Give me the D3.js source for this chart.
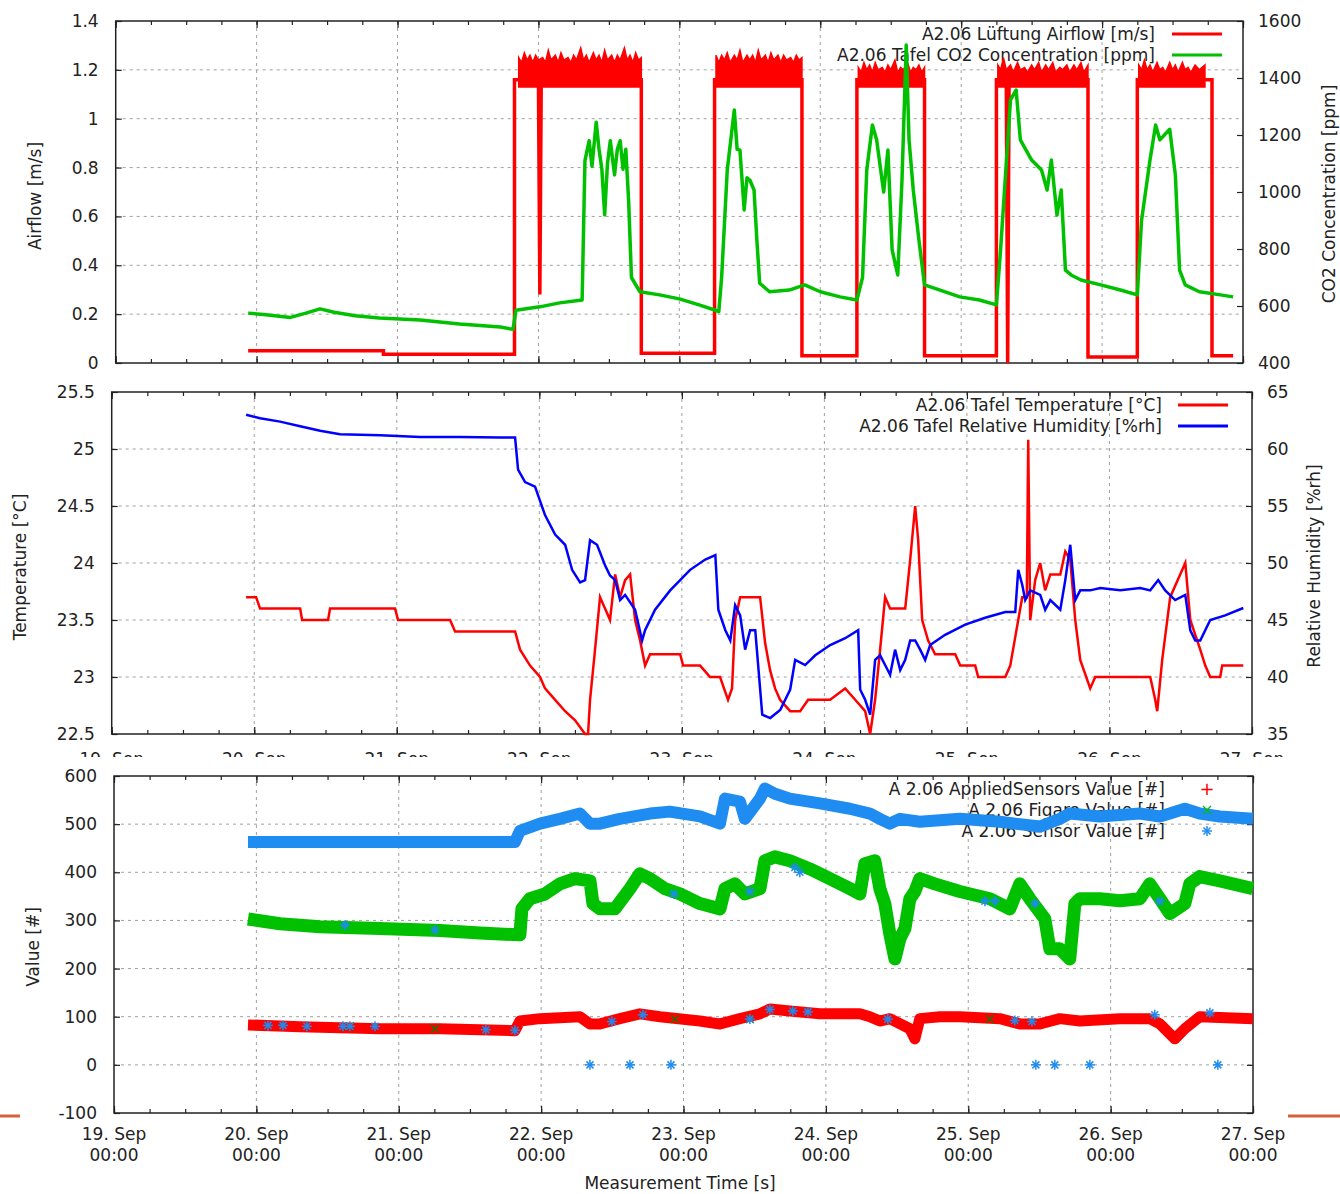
<!DOCTYPE html>
<html><head><meta charset="utf-8">
<script src="https://cdn.jsdelivr.net/npm/d3@7"></script>
<style>
body{margin:0;background:#fff}
svg{display:block}
text{font-family:"DejaVu Sans",sans-serif;fill:#222}
</style>
</head><body>
<svg id="c" width="1340" height="1194"></svg>
<script>
// ---------- DATA (time = days after 19 Sep 00:00) ----------
const xTickDays = [0,1,2,3,4,5,6,7,8];
const airflowTicks = [0,0.2,0.4,0.6,0.8,1,1.2,1.4];
const co2Ticks = [400,600,800,1000,1200,1400,1600];
const tempTicks = [22.5,23,23.5,24,24.5,25,25.5];
const humTicks = [35,40,45,50,55,60,65];
const valueTicks = [-100,0,100,200,300,400,500,600];

// Airflow step line (off periods + transitions)
const airflow = [[0.94,0.05],[1.90,0.05],[1.90,0.036],[2.83,0.036],[2.83,1.16],[3.00,1.16],[3.01,0.28],[3.02,1.16],[3.73,1.16],[3.73,0.04],
 [4.25,0.04],[4.25,1.16],[4.87,1.16],[4.87,0.03],[5.26,0.03],[5.26,1.16],[5.74,1.16],[5.74,0.03],[6.25,0.03],[6.25,1.16],[6.32,1.16],[6.33,0.0],[6.34,1.16],
 [6.90,1.16],[6.90,0.025],[7.25,0.025],[7.25,1.16],[7.73,1.16],[7.78,1.16],[7.78,0.03],[7.93,0.03]];
// Airflow "on" noise bands: [t, upper value]; lower edge airflowBandLow
const airflowBandLow = 1.13;
const airflowBand1 = [[2.86,1.25],[2.88,1.23],[2.90,1.27],[2.92,1.24],[2.94,1.26],[2.96,1.23],[2.98,1.26],[3.00,1.24],[3.03,1.25],[3.05,1.23],[3.07,1.28],[3.09,1.24],[3.12,1.26],[3.14,1.23],[3.16,1.27],[3.18,1.24],[3.21,1.25],[3.23,1.23],[3.25,1.26],[3.27,1.24],[3.30,1.29],[3.32,1.24],[3.34,1.26],[3.36,1.23],[3.39,1.27],[3.41,1.24],[3.43,1.26],[3.45,1.23],[3.47,1.28],[3.49,1.24],[3.52,1.26],[3.54,1.23],[3.56,1.26],[3.58,1.24],[3.61,1.29],[3.63,1.24],[3.65,1.26],[3.67,1.23],[3.69,1.27],[3.71,1.24],[3.73,1.25]];
const airflowBand2 = [[4.26,1.26],[4.28,1.23],[4.30,1.26],[4.32,1.24],[4.34,1.27],[4.36,1.23],[4.39,1.26],[4.41,1.24],[4.43,1.28],[4.45,1.23],[4.48,1.26],[4.50,1.24],[4.52,1.26],[4.54,1.23],[4.56,1.28],[4.58,1.24],[4.61,1.26],[4.63,1.23],[4.65,1.27],[4.67,1.24],[4.70,1.26],[4.72,1.23],[4.74,1.26],[4.76,1.24],[4.79,1.25],[4.81,1.23],[4.83,1.26],[4.85,1.24],[4.87,1.25]];
const airflowBand3 = [[5.27,1.21],[5.29,1.19],[5.31,1.23],[5.33,1.20],[5.35,1.22],[5.37,1.19],[5.39,1.23],[5.41,1.20],[5.44,1.21],[5.46,1.19],[5.48,1.22],[5.50,1.20],[5.53,1.24],[5.55,1.19],[5.57,1.21],[5.59,1.20],[5.62,1.23],[5.64,1.19],[5.66,1.21],[5.68,1.20],[5.70,1.22],[5.72,1.19],[5.74,1.21]];
const airflowBand4 = [[6.26,1.22],[6.28,1.20],[6.30,1.25],[6.32,1.20],[6.35,1.22],[6.37,1.19],[6.40,1.23],[6.42,1.20],[6.45,1.21],[6.47,1.19],[6.50,1.22],[6.52,1.20],[6.55,1.23],[6.57,1.19],[6.60,1.22],[6.62,1.20],[6.65,1.23],[6.67,1.19],[6.70,1.21],[6.72,1.20],[6.75,1.22],[6.77,1.19],[6.80,1.22],[6.82,1.20],[6.85,1.23],[6.87,1.19],[6.90,1.22]];
const airflowBand5 = [[7.26,1.22],[7.28,1.20],[7.30,1.24],[7.32,1.20],[7.34,1.22],[7.36,1.19],[7.39,1.23],[7.41,1.20],[7.43,1.21],[7.45,1.19],[7.48,1.23],[7.50,1.20],[7.52,1.22],[7.54,1.19],[7.57,1.23],[7.59,1.20],[7.61,1.21],[7.63,1.19],[7.66,1.22],[7.69,1.20],[7.73,1.22]];

const co2 = [[0.94,575],[1.05,570],[1.24,560],[1.35,575],[1.45,590],[1.55,578],[1.70,566],[1.87,558],[2.16,551],[2.44,537],[2.73,526],[2.82,518],[2.84,585],[3.01,597],[3.15,611],[3.31,621],
 [3.33,1110],[3.36,1180],[3.38,1090],[3.41,1245],[3.43,1150],[3.45,1080],[3.47,920],[3.49,1100],[3.51,1180],[3.54,1060],[3.56,1150],[3.58,1180],[3.60,1080],[3.62,1150],[3.64,970],[3.66,700],[3.72,650],[3.86,639],[4.00,625],[4.14,604],[4.25,586],
 [4.28,580],[4.30,700],[4.34,1077],[4.39,1288],[4.41,1150],[4.43,1147],[4.46,937],[4.48,1050],[4.50,1042],[4.53,1007],[4.55,832],[4.57,680],[4.64,650],[4.78,656],[4.89,674],[5.00,650],[5.14,632],[5.26,621],
 [5.30,700],[5.33,1077],[5.37,1235],[5.40,1183],[5.45,1000],[5.48,1147],[5.51,797],[5.55,709],[5.58,1042],[5.61,1516],[5.63,1183],[5.66,1007],[5.70,832],[5.74,674],[5.85,656],[5.99,632],[6.13,621],[6.25,604],
 [6.28,800],[6.35,1323],[6.39,1358],[6.42,1183],[6.50,1112],[6.57,1077],[6.61,1007],[6.64,1112],[6.68,919],[6.71,1007],[6.74,726],[6.78,709],[6.85,691],[6.99,674],[7.13,656],[7.25,639],
 [7.28,900],[7.34,1112],[7.38,1235],[7.41,1183],[7.48,1220],[7.52,1060],[7.55,726],[7.59,674],[7.69,650],[7.84,639],[7.93,632]];

const temperature = [[0.943,23.7],[1.013,23.7],[1.041,23.6],[1.322,23.6],[1.336,23.5],[1.518,23.5],[1.532,23.6],[1.988,23.6],[2.009,23.5],[2.374,23.5],[2.409,23.4],[2.830,23.4],[2.865,23.24],[2.935,23.1],[3.005,23.0],[3.040,22.9],[3.111,22.8],[3.181,22.7],[3.251,22.62],[3.321,22.5],[3.342,22.5],[3.356,22.8],[3.391,23.24],[3.426,23.7],[3.461,23.6],[3.496,23.5],[3.532,23.9],[3.567,23.7],[3.602,23.85],[3.637,23.9],[3.672,23.5],[3.707,23.32],[3.742,23.1],[3.777,23.2],[3.988,23.2],[4.009,23.1],[4.128,23.1],[4.198,23.0],[4.268,23.0],[4.324,22.8],[4.352,22.9],[4.374,23.5],[4.409,23.7],[4.549,23.7],[4.584,23.3],[4.619,23.06],[4.654,22.9],[4.689,22.8],[4.760,22.7],[4.830,22.7],[4.886,22.8],[5.040,22.8],[5.146,22.9],[5.216,22.8],[5.286,22.7],[5.321,22.5],[5.356,22.8],[5.391,23.24],[5.426,23.7],[5.461,23.6],[5.567,23.6],[5.602,24.03],[5.637,24.5],[5.658,24.2],[5.686,23.5],[5.728,23.32],[5.777,23.2],[5.918,23.2],[5.953,23.1],[6.058,23.1],[6.079,23.0],[6.269,23.0],[6.304,23.1],[6.360,23.5],[6.388,23.7],[6.42,23.7],[6.430,25.08],[6.444,23.5],[6.479,23.85],[6.514,24.0],[6.549,23.76],[6.585,23.9],[6.655,23.9],[6.690,24.1],[6.725,24.03],[6.760,23.5],[6.795,23.15],[6.865,22.9],[6.900,23.0],[7.286,23.0],[7.321,22.8],[7.335,22.7],[7.370,23.15],[7.426,23.7],[7.496,23.9],[7.532,24.0],[7.567,23.5],[7.637,23.24],[7.672,23.1],[7.707,23.0],[7.777,23.0],[7.791,23.1],[7.939,23.1]];

const humidity = [[0.943,63.0],[1.041,62.7],[1.181,62.4],[1.322,62.0],[1.462,61.6],[1.602,61.3],[1.883,61.2],[2.164,61.05],[2.445,61.05],[2.725,61.0],[2.830,61.0],[2.851,58.2],[2.900,57.1],[2.970,56.7],[3.040,54.2],[3.111,52.5],[3.181,51.6],[3.230,49.4],[3.286,48.3],[3.321,48.5],[3.356,52.0],[3.405,51.6],[3.461,49.8],[3.496,48.9],[3.532,48.5],[3.567,46.75],[3.602,47.2],[3.672,45.9],[3.721,43.2],[3.742,44.1],[3.812,45.9],[3.918,47.6],[4.058,49.4],[4.164,50.3],[4.235,50.7],[4.256,45.9],[4.305,44.1],[4.340,43.2],[4.374,46.3],[4.409,45.4],[4.444,42.4],[4.479,44.1],[4.515,44.1],[4.564,36.7],[4.620,36.4],[4.690,37.1],[4.760,38.9],[4.795,41.5],[4.865,41.05],[4.936,41.9],[5.041,42.8],[5.146,43.4],[5.237,44.1],[5.251,38.9],[5.286,38.0],[5.321,36.7],[5.356,41.5],[5.391,41.9],[5.426,41.05],[5.461,40.2],[5.496,42.4],[5.532,40.6],[5.567,41.5],[5.602,43.2],[5.637,43.2],[5.672,42.4],[5.707,41.5],[5.742,42.8],[5.847,43.7],[5.988,44.6],[6.128,45.2],[6.269,45.7],[6.339,45.7],[6.360,49.4],[6.388,48.1],[6.409,46.75],[6.444,47.6],[6.514,47.2],[6.549,45.9],[6.585,46.75],[6.655,45.9],[6.690,48.5],[6.725,51.6],[6.760,46.75],[6.795,47.6],[6.865,47.6],[6.935,47.8],[7.076,47.6],[7.216,47.8],[7.286,47.6],[7.342,48.5],[7.391,47.6],[7.461,46.75],[7.532,47.2],[7.567,44.1],[7.602,43.2],[7.637,43.2],[7.707,45.0],[7.812,45.4],[7.939,46.05]];

const appliedSensors = [[0.941,83],[1.306,79],[1.868,75],[2.289,75],[2.816,71],[2.851,91],[2.992,96],[3.272,100],[3.343,85],[3.413,85],[3.553,96],[3.694,106],[3.834,100],[4.115,91],[4.256,85],[4.396,96],[4.537,106],[4.607,116],[4.747,112],[4.958,106],[5.239,106],[5.309,100],[5.379,91],[5.449,96],[5.590,75],[5.625,54],[5.660,96],[5.801,100],[5.941,100],[6.222,96],[6.362,85],[6.503,85],[6.643,96],[6.784,91],[7.065,96],[7.275,96],[7.346,85],[7.451,54],[7.521,75],[7.626,100],[7.999,96]];
const figaro = [[0.941,303],[1.166,293],[1.447,287],[1.868,283],[2.289,279],[2.570,274],[2.851,270],[2.865,324],[2.921,345],[3.027,355],[3.132,376],[3.237,387],[3.343,382],[3.364,335],[3.413,324],[3.518,324],[3.624,366],[3.694,397],[3.764,387],[3.869,366],[3.975,355],[4.115,335],[4.256,324],[4.291,366],[4.361,376],[4.431,355],[4.537,366],[4.572,424],[4.642,432],[4.747,424],[4.888,407],[5.028,387],[5.169,366],[5.239,355],[5.274,418],[5.344,424],[5.379,366],[5.414,335],[5.449,272],[5.485,220],[5.520,262],[5.555,283],[5.590,345],[5.625,360],[5.660,387],[5.765,376],[5.941,360],[6.152,345],[6.292,324],[6.362,376],[6.433,345],[6.538,303],[6.573,241],[6.643,241],[6.713,220],[6.749,335],[6.784,345],[6.924,345],[7.065,341],[7.205,345],[7.275,376],[7.346,345],[7.416,314],[7.521,335],[7.556,376],[7.626,391],[7.767,382],[7.999,366]];
const sensor3 = [[0.941,463],[2.816,463],[2.851,486],[2.992,501],[3.132,511],[3.272,522],[3.343,501],[3.413,501],[3.553,511],[3.764,522],[3.904,526],[4.115,516],[4.256,501],[4.291,553],[4.396,547],[4.431,511],[4.537,553],[4.572,574],[4.642,563],[4.747,553],[4.958,543],[5.169,532],[5.309,522],[5.379,511],[5.449,501],[5.520,511],[5.660,505],[5.941,511],[6.222,505],[6.503,495],[6.643,511],[6.713,522],[6.924,516],[7.205,522],[7.346,516],[7.416,522],[7.521,532],[7.626,522],[7.767,516],[7.999,511]];
// scattered single markers
const sensor3Stray = [[3.343,0],[3.624,0],[3.912,0],[6.475,0],[6.608,0],[6.854,0],[7.753,0],
 [1.081,82],[1.187,82],[1.355,80],[1.608,80],[1.657,80],[1.833,80],[2.612,73],[2.816,72],[3.497,90],[3.715,104],[4.466,95],[4.607,115],[4.768,112],[4.874,110],[5.435,95],[6.327,92],[6.447,90],[7.310,104],[7.697,108],
 [1.622,290],[2.254,280],[3.933,355],[4.466,360],[4.782,410],[4.817,400],[6.117,340],[6.187,340],[6.468,335],[7.346,340]];
const figaroStray = [[1.657,80],[2.254,75],[3.940,95],[4.466,95],[6.152,95]];

// ---------- RENDER ----------
const FS = 17;
const svg = d3.select("#c");
const t0 = Date.UTC(2013,8,19);
const toDate = t => new Date(t0 + t*864e5);
const RED="#ff0000", GREEN="#00c000", BLUE="#0000ff", SKY="#1e8cf0", GRID="#a0a0a0", INK="#222";

function panel(box, yl, yr, yTicksL, yTicksR, fmtL, fmtR){
  const x = d3.scaleUtc().domain([toDate(0),toDate(8)]).range([box.L,box.R]);
  const y = d3.scaleLinear().domain(yl).range([box.B,box.T]);
  const y2 = yr ? d3.scaleLinear().domain(yr).range([box.B,box.T]) : null;
  const g = svg.append("g");
  const gg = g.append("g").attr("stroke",GRID).attr("stroke-width",1).attr("stroke-dasharray","3,4");
  yTicksL.slice(1,-1).forEach(v=>gg.append("line").attr("x1",box.L).attr("x2",box.R).attr("y1",y(v)).attr("y2",y(v)));
  xTickDays.slice(1,-1).forEach(d=>gg.append("line").attr("x1",x(toDate(d))).attr("x2",x(toDate(d))).attr("y1",box.T).attr("y2",box.B));
  const ax = g.append("g");
  ax.append("g").attr("transform",`translate(${box.L},0)`).call(d3.axisLeft(y).tickValues(yTicksL).tickFormat(fmtL).tickSize(-6).tickPadding(17));
  if(y2){
    ax.append("g").attr("transform",`translate(${box.R},0)`).call(d3.axisRight(y2).tickValues(yTicksR).tickFormat(fmtR).tickSize(-6).tickPadding(15));
  } else {
    ax.append("g").attr("transform",`translate(${box.R},0)`).call(d3.axisRight(y).tickValues(yTicksL).tickFormat("").tickSize(-6));
  }
  const minor = d3.utcHour.every(6).range(toDate(0),toDate(8.01));
  ax.append("g").attr("transform",`translate(0,${box.B})`).call(d3.axisBottom(x).tickValues(minor).tickFormat("").tickSize(-4));
  ax.append("g").attr("transform",`translate(0,${box.T})`).call(d3.axisTop(x).tickValues(minor).tickFormat("").tickSize(-4));
  ax.append("g").attr("transform",`translate(0,${box.B})`).call(d3.axisBottom(x).tickValues(xTickDays.map(toDate)).tickFormat("").tickSize(-7));
  ax.append("g").attr("transform",`translate(0,${box.T})`).call(d3.axisTop(x).tickValues(xTickDays.map(toDate)).tickFormat("").tickSize(-7));
  ax.selectAll(".domain").remove();
  ax.selectAll(".tick line").attr("stroke",INK).attr("stroke-width",1.2);
  ax.selectAll("text").attr("font-size",FS).style("fill",INK).attr("font-family","DejaVu Sans");
  g.append("rect").attr("x",box.L).attr("y",box.T).attr("width",box.R-box.L).attr("height",box.B-box.T)
   .attr("fill","none").attr("stroke",INK).attr("stroke-width",1.5);
  return {x,y,y2,g};
}
const fmt1 = d=>String(+(+d).toFixed(1));
const fmt0 = d=>String(d);
const legendText = (g,x,y,txt)=>g.append("text").attr("x",x).attr("y",y).attr("text-anchor","end").attr("font-size",FS).text(txt);

// ===== Panel 1 =====
const P1 = {L:115.7,R:1243,T:21,B:363};
const p1 = panel(P1,[0,1.4],[400,1600],airflowTicks,co2Ticks,fmt1,fmt0);
legendText(p1.g,1155,40,"A2.06 Lüftung Airflow [m/s]");
legendText(p1.g,1155,61,"A2.06 Tafel CO2 Concentration [ppm]");
{
  const x=p1.x,y=p1.y,y2=p1.y2;
  const area = d3.area().x(d=>x(toDate(d[0]))).y0(y(airflowBandLow)).y1(d=>y(d[1]));
  [airflowBand1,airflowBand2,airflowBand3,airflowBand4,airflowBand5].forEach(b=>
    p1.g.append("path").attr("d",area(b)).attr("fill",RED).attr("stroke",RED).attr("stroke-width",1.5));
  p1.g.append("path").attr("d",d3.line().x(d=>x(toDate(d[0]))).y(d=>y(d[1]))(airflow))
    .attr("fill","none").attr("stroke",RED).attr("stroke-width",3.5);
  p1.g.append("path").attr("d",d3.line().x(d=>x(toDate(d[0]))).y(d=>y2(d[1]))(co2))
    .attr("fill","none").attr("stroke",GREEN).attr("stroke-width",3.5).attr("stroke-linejoin","round");
  p1.g.append("line").attr("x1",1172).attr("x2",1222).attr("y1",34).attr("y2",34).attr("stroke",RED).attr("stroke-width",3);
  p1.g.append("line").attr("x1",1172).attr("x2",1222).attr("y1",55).attr("y2",55).attr("stroke",GREEN).attr("stroke-width",3);
}

// ===== Panel 2 =====
const P2 = {L:111.7,R:1252,T:392,B:734};
const p2 = panel(P2,[22.5,25.5],[35,65],tempTicks,humTicks,fmt1,fmt0);
legendText(p2.g,1162,411,"A2.06 Tafel Temperature [°C]");
legendText(p2.g,1162,432,"A2.06 Tafel Relative Humidity [%rh]");
{
  const x=p2.x,y=p2.y,y2=p2.y2;
  p2.g.append("path").attr("d",d3.line().x(d=>x(toDate(d[0]))).y(d=>y(d[1]))(temperature))
    .attr("fill","none").attr("stroke",RED).attr("stroke-width",2.5);
  p2.g.append("path").attr("d",d3.line().x(d=>x(toDate(d[0]))).y(d=>y2(d[1]))(humidity))
    .attr("fill","none").attr("stroke",BLUE).attr("stroke-width",2.5);
  p2.g.append("line").attr("x1",1178).attr("x2",1228).attr("y1",405).attr("y2",405).attr("stroke",RED).attr("stroke-width",3);
  p2.g.append("line").attr("x1",1178).attr("x2",1228).attr("y1",426).attr("y2",426).attr("stroke",BLUE).attr("stroke-width",3);
  svg.append("clipPath").attr("id","cut").append("rect").attr("x",0).attr("y",735).attr("width",1340).attr("height",22);
  const lab = svg.append("g").attr("clip-path","url(#cut)");
  xTickDays.forEach(d=>lab.append("text").attr("x",x(toDate(d))).attr("y",765).attr("text-anchor","middle").attr("font-size",FS).text(d3.utcFormat("%d. %b")(toDate(d))));
}

// ===== Panel 3 =====
const P3 = {L:114,R:1253,T:776,B:1113};
const p3 = panel(P3,[-100,600],null,valueTicks,null,fmt0,null);
legendText(p3.g,1165,795,"A 2.06 AppliedSensors Value [#]");
legendText(p3.g,1165,816,"A 2.06 Figaro Value [#]");
legendText(p3.g,1165,837,"A 2.06 Sensor Value [#]");
{
  const x=p3.x,y=p3.y;
  const ln = d3.line().x(d=>x(toDate(d[0]))).y(d=>y(d[1]));
  p3.g.append("path").attr("d",ln(sensor3)).attr("fill","none").attr("stroke",SKY).attr("stroke-width",12).attr("stroke-linejoin","round");
  p3.g.append("path").attr("d",ln(figaro)).attr("fill","none").attr("stroke",GREEN).attr("stroke-width",13).attr("stroke-linejoin","round");
  p3.g.append("path").attr("d",ln(appliedSensors)).attr("fill","none").attr("stroke",RED).attr("stroke-width",11).attr("stroke-linejoin","round");
  const star = (g,cx,cy,c)=>{ const s=5; [[s,0],[0,s],[s*0.7,s*0.7],[s*0.7,-s*0.7]].forEach(([a,b])=>g.append("line").attr("x1",cx-a).attr("x2",cx+a).attr("y1",cy-b).attr("y2",cy+b).attr("stroke",c).attr("stroke-width",1.5)); };
  const cross = (g,cx,cy,c)=>{ const s=4; [[s,s],[s,-s]].forEach(([a,b])=>g.append("line").attr("x1",cx-a).attr("x2",cx+a).attr("y1",cy-b).attr("y2",cy+b).attr("stroke",c).attr("stroke-width",1.3)); };
  figaroStray.forEach(d=>cross(p3.g,x(toDate(d[0])),y(d[1]),"#008000"));
  sensor3Stray.forEach(d=>star(p3.g,x(toDate(d[0])),y(d[1]),SKY));
  p3.g.append("text").attr("x",1207).attr("y",795).attr("text-anchor","middle").attr("font-size",18).style("fill",RED).text("+");
  cross(p3.g,1207,810,GREEN);
  star(p3.g,1207,831,SKY);
  xTickDays.forEach(d=>{
    const t = p3.g.append("text").attr("x",x(toDate(d))).attr("text-anchor","middle").attr("font-size",FS);
    t.append("tspan").attr("x",x(toDate(d))).attr("y",1140).text(d3.utcFormat("%d. %b")(toDate(d)));
    t.append("tspan").attr("x",x(toDate(d))).attr("y",1161).text(d3.utcFormat("%H:%M")(toDate(d)));
  });
}

const title=(x,y,txt,rot)=>svg.append("text").attr("transform",`translate(${x},${y}) rotate(${rot})`).attr("text-anchor","middle").attr("dominant-baseline","central").attr("font-size",FS).text(txt);
title(35,196,"Airflow [m/s]",-90);
title(1329,194,"CO2 Concentration [ppm]",-90);
title(20,567,"Temperature [°C]",-90);
title(1314,566,"Relative Humidity [%rh]",-90);
title(33,947,"Value [#]",-90);
title(680,1183,"Measurement Time [s]",0);

svg.append("line").attr("x1",0).attr("x2",20).attr("y1",1116).attr("y2",1116).attr("stroke","#d4603c").attr("stroke-width",3);
svg.append("line").attr("x1",1288).attr("x2",1340).attr("y1",1116).attr("y2",1116).attr("stroke","#d4603c").attr("stroke-width",3);
</script>
</body></html>
